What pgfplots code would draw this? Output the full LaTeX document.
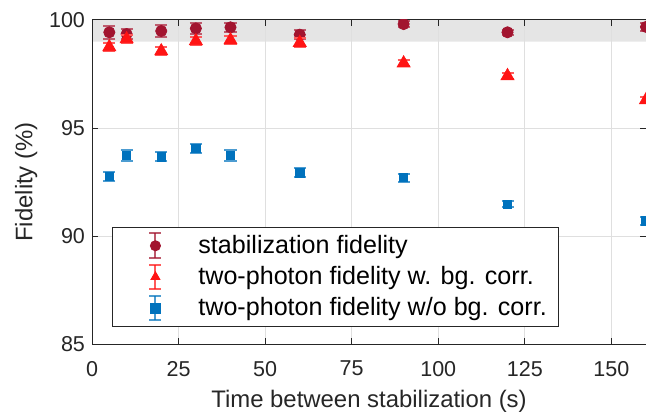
\documentclass[border=0pt]{standalone}
\usepackage{fontspec}
\setmainfont{Liberation Sans}
\usepackage{pgfplots}
\pgfplotsset{compat=1.18}
\definecolor{cstab}{RGB}{162,20,47}
\definecolor{cwith}{RGB}{255,20,20}
\definecolor{cwo}{RGB}{0,114,189}
\definecolor{axc}{RGB}{38,38,38}
\begin{document}
\begin{tikzpicture}
\begin{axis}[
  set layers=standard,
  scale only axis,
  width=277bp, height=162bp,
  xmin=0, xmax=160, ymin=85, ymax=100,
  xtick={0,25,50,75,100,125,150},
  ytick={85,90,95,100},
  tick align=inside,
  major tick length=3bp,
  axis line style={axc, line width=0.5pt},
  every tick/.style={axc, line width=0.5pt},
  grid=major,
  major grid style={gray!25, line width=0.5pt},
  tick label style={font=\fontsize{10.8}{13}\selectfont, text=axc},
  xticklabel style={yshift=-5bp},
  label style={font=\fontsize{12}{14}\selectfont, text=axc},
  /pgf/number format/assume math mode=true,
  xlabel={Time between stabilization (s)},
  ylabel={Fidelity (\%)},
  xlabel style={yshift=0bp},
  ylabel style={yshift=-1bp},
  clip marker paths=true,
  error bars/y dir=both,
  error bars/y explicit,
  legend cell align=left,
  legend style={at={(axis description cs:0.036,0.052)}, anchor=south west,
    draw=axc, line width=0.5pt, font=\fontsize{12.6}{15}\selectfont,
    inner xsep=4bp, inner ysep=2bp, row sep=1bp},
  legend image code/.code={
    \path[draw=none, fill=none] (0bp,-7bp) rectangle (37bp,7bp);
    \draw[#1, mark=none, line width=1bp, opacity=0.7] (17.5bp,-6.2bp) -- (17.5bp,6.2bp);
    \draw[#1, mark=none, line width=1bp, opacity=0.7] (14.5bp,-6.2bp) -- (20.5bp,-6.2bp);
    \draw[#1, mark=none, line width=1bp, opacity=0.7] (14.5bp,6.2bp) -- (20.5bp,6.2bp);
    \draw[#1, only marks, mark size=2.5bp] plot coordinates {(17.5bp,0bp)};
  },
]
\addplot[on layer=axis background, fill=black!10, draw=none, forget plot]
  coordinates {(0,99) (160,99) (160,100) (0,100)} \closedcycle;

\addplot[only marks, mark=*, mark size=2.8bp, color=cstab,
  error bars/error bar style={cstab!70!white, line width=1bp},
  error bars/error mark options={rotate=90, mark size=3bp, cstab!70!white, line width=1bp}]
  coordinates {
  (5,99.43) +- (0,0.3)
  (10,99.35) +- (0,0.22)
  (20,99.49) +- (0,0.28)
  (30,99.61) +- (0,0.25)
  (40,99.66) +- (0,0.2)
  (60,99.32) +- (0,0.2)
  (90,99.81) +- (0,0.15)
  (120,99.43) +- (0,0.12)
  (160,99.68) +- (0,0.2)
  };
\addlegendentry{stabilization fidelity}

\addplot[only marks, mark=triangle*, mark size=3.7bp, color=cwith,
  error bars/error bar style={cwith!70!white, line width=1bp},
  error bars/error mark options={rotate=90, mark size=3bp, cwith!70!white, line width=1bp}]
  coordinates {
  (5,98.75) +- (0,0.2)
  (10,99.12) +- (0,0.2)
  (20,98.56) +- (0,0.18)
  (30,99.03) +- (0,0.2)
  (40,99.07) +- (0,0.2)
  (60,98.95) +- (0,0.2)
  (90,98.00) +- (0,0.15)
  (120,97.41) +- (0,0.12)
  (160,96.30) +- (0,0.15)
  };
\addlegendentry{two-photon fidelity w. bg. corr.}

\addplot[only marks, mark=square*, mark size=2.1bp, color=cwo,
  error bars/error bar style={cwo!70!white, line width=1bp},
  error bars/error mark options={rotate=90, mark size=3bp, cwo!70!white, line width=1bp}]
  coordinates {
  (5,92.75) +- (0,0.2)
  (10,93.72) +- (0,0.25)
  (20,93.67) +- (0,0.22)
  (30,94.06) +- (0,0.22)
  (40,93.72) +- (0,0.25)
  (60,92.93) +- (0,0.2)
  (90,92.70) +- (0,0.18)
  (120,91.47) +- (0,0.15)
  (160,90.70) +- (0,0.18)
  };
\addlegendentry{two-photon fidelity w/o bg. corr.}
\end{axis}
\pgfresetboundingbox
\path[use as bounding box] (-46bp,-35bp) rectangle (277bp,172bp);
\end{tikzpicture}
\end{document}
